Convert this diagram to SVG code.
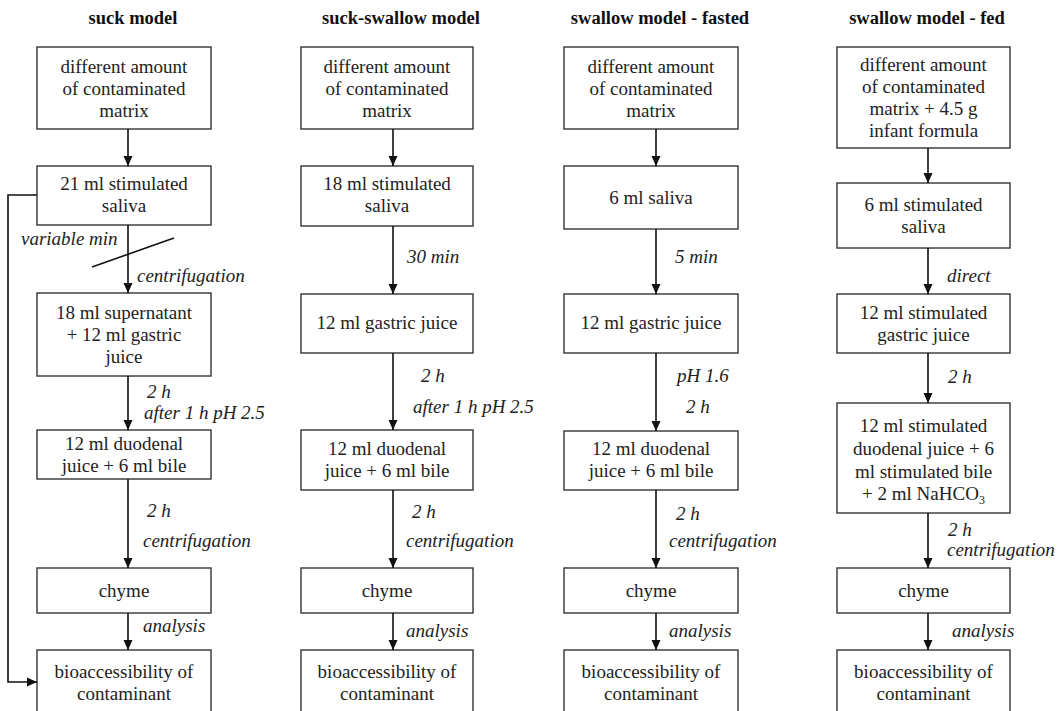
<svg xmlns="http://www.w3.org/2000/svg" width="1057" height="711" viewBox="0 0 1057 711" font-family="Liberation Serif, DejaVu Serif, serif">
<defs>
<marker id="ah" markerUnits="userSpaceOnUse" markerWidth="10" markerHeight="10" viewBox="0 0 10 10" refX="10" refY="5" orient="auto">
<path d="M0,0.5 L10,5 L0,9.5 Z" fill="#111"/>
</marker>
</defs>
<style>
rect.b{fill:#fff;stroke:#333;stroke-width:1.4}
text{font-family:'Liberation Serif','DejaVu Serif',serif;fill:#222}
.t{font-size:19px;text-anchor:middle}
.h{font-size:18.5px;font-weight:bold;text-anchor:middle;fill:#111}
.l{font-size:19px;font-style:italic}
.c line,.c path{stroke:#111;stroke-width:1.6;fill:none}
.a{marker-end:url(#ah)}
</style>
<rect width="1057" height="711" fill="#fff"/>
<g id="titles">
<text class="h" x="133" y="24">suck model</text>
<text class="h" x="401" y="24">suck-swallow model</text>
<text class="h" x="660" y="24">swallow model - fasted</text>
<text class="h" x="927" y="24">swallow model - fed</text>
</g>
<g id="c1n1"><rect class="b" x="37" y="47" width="174" height="82"/><text class="t" x="124" y="73">different amount</text><text class="t" x="124" y="95">of contaminated</text><text class="t" x="124" y="117">matrix</text></g>
<g id="c1n2"><rect class="b" x="37" y="166" width="174" height="59"/><text class="t" x="124" y="190">21 ml stimulated</text><text class="t" x="124" y="212">saliva</text></g>
<g id="c1n3"><rect class="b" x="37" y="293" width="174" height="83"/><text class="t" x="124" y="319">18 ml supernatant</text><text class="t" x="124" y="341">+ 12 ml gastric</text><text class="t" x="124" y="363">juice</text></g>
<g id="c1n4"><rect class="b" x="37" y="430" width="174" height="49"/><text class="t" x="124" y="450">12 ml duodenal</text><text class="t" x="124" y="472">juice + 6 ml bile</text></g>
<g id="c1n5"><rect class="b" x="37" y="568" width="174" height="45"/><text class="t" x="124" y="597">chyme</text></g>
<g id="c1n6"><rect class="b" x="37" y="650" width="174" height="80"/><text class="t" x="124" y="678">bioaccessibility of</text><text class="t" x="124" y="700">contaminant</text></g>
<g id="c2n1"><rect class="b" x="301" y="47" width="172" height="82"/><text class="t" x="387" y="73">different amount</text><text class="t" x="387" y="95">of contaminated</text><text class="t" x="387" y="117">matrix</text></g>
<g id="c2n2"><rect class="b" x="301" y="166" width="172" height="60"/><text class="t" x="387" y="190">18 ml stimulated</text><text class="t" x="387" y="212">saliva</text></g>
<g id="c2n3"><rect class="b" x="301" y="294" width="172" height="59"/><text class="t" x="387" y="329">12 ml gastric juice</text></g>
<g id="c2n4"><rect class="b" x="301" y="430" width="172" height="60"/><text class="t" x="387" y="455">12 ml duodenal</text><text class="t" x="387" y="477">juice + 6 ml bile</text></g>
<g id="c2n5"><rect class="b" x="301" y="568" width="172" height="45"/><text class="t" x="387" y="597">chyme</text></g>
<g id="c2n6"><rect class="b" x="301" y="650" width="172" height="80"/><text class="t" x="387" y="678">bioaccessibility of</text><text class="t" x="387" y="700">contaminant</text></g>
<g id="c3n1"><rect class="b" x="564" y="47" width="174" height="82"/><text class="t" x="651" y="73">different amount</text><text class="t" x="651" y="95">of contaminated</text><text class="t" x="651" y="117">matrix</text></g>
<g id="c3n2"><rect class="b" x="564" y="166" width="174" height="63"/><text class="t" x="651" y="204">6 ml saliva</text></g>
<g id="c3n3"><rect class="b" x="564" y="294" width="174" height="59"/><text class="t" x="651" y="329">12 ml gastric juice</text></g>
<g id="c3n4"><rect class="b" x="564" y="431" width="174" height="59"/><text class="t" x="651" y="455">12 ml duodenal</text><text class="t" x="651" y="477">juice + 6 ml bile</text></g>
<g id="c3n5"><rect class="b" x="564" y="568" width="174" height="45"/><text class="t" x="651" y="597">chyme</text></g>
<g id="c3n6"><rect class="b" x="564" y="650" width="174" height="80"/><text class="t" x="651" y="678">bioaccessibility of</text><text class="t" x="651" y="700">contaminant</text></g>
<g id="c4n1"><rect class="b" x="837" y="47" width="173" height="101"/><text class="t" x="923.5" y="71">different amount</text><text class="t" x="923.5" y="93">of contaminated</text><text class="t" x="923.5" y="115">matrix + 4.5 g</text><text class="t" x="923.5" y="137">infant formula</text></g>
<g id="c4n2"><rect class="b" x="837" y="183" width="173" height="65"/><text class="t" x="923.5" y="211">6 ml stimulated</text><text class="t" x="923.5" y="233">saliva</text></g>
<g id="c4n3"><rect class="b" x="837" y="294" width="173" height="59"/><text class="t" x="923.5" y="319">12 ml stimulated</text><text class="t" x="923.5" y="341">gastric juice</text></g>
<g id="c4n4"><rect class="b" x="837" y="403" width="173" height="110"/><text class="t" x="923.5" y="432">12 ml stimulated</text><text class="t" x="923.5" y="455">duodenal juice + 6</text><text class="t" x="923.5" y="477.5">ml stimulated bile</text><text class="t" x="923.5" y="500">+ 2 ml NaHCO<tspan font-size="12" dy="4">3</tspan></text></g>
<g id="c4n5"><rect class="b" x="837" y="568" width="173" height="45"/><text class="t" x="923.5" y="597">chyme</text></g>
<g id="c4n6"><rect class="b" x="837" y="650" width="173" height="80"/><text class="t" x="923.5" y="678">bioaccessibility of</text><text class="t" x="923.5" y="700">contaminant</text></g>
<g id="connectors" class="c">
<line class="a" x1="128" y1="129" x2="128" y2="166"/>
<line class="a" x1="128" y1="225" x2="128" y2="293"/>
<line x1="92" y1="267" x2="174" y2="238"/>
<line class="a" x1="128" y1="376" x2="128" y2="430"/>
<line class="a" x1="128" y1="479" x2="128" y2="568"/>
<line class="a" x1="128" y1="613" x2="128" y2="650"/>
<path class="a" d="M37,195 H8 V682 H37"/>
<line class="a" x1="393" y1="129" x2="393" y2="166"/>
<line class="a" x1="393" y1="226" x2="393" y2="294"/>
<line class="a" x1="393" y1="353" x2="393" y2="430"/>
<line class="a" x1="393" y1="490" x2="393" y2="568"/>
<line class="a" x1="393" y1="613" x2="393" y2="650"/>
<line class="a" x1="656" y1="129" x2="656" y2="166"/>
<line class="a" x1="656" y1="229" x2="656" y2="294"/>
<line class="a" x1="656" y1="353" x2="656" y2="431"/>
<line class="a" x1="656" y1="490" x2="656" y2="568"/>
<line class="a" x1="656" y1="613" x2="656" y2="650"/>
<line class="a" x1="928" y1="148" x2="928" y2="183"/>
<line class="a" x1="928" y1="248" x2="928" y2="294"/>
<line class="a" x1="928" y1="353" x2="928" y2="403"/>
<line class="a" x1="928" y1="513" x2="928" y2="568"/>
<line class="a" x1="928" y1="613" x2="928" y2="650"/>
</g>
<g id="labels">
<text class="l" x="21" y="245">variable min</text>
<text class="l" x="137" y="282">centrifugation</text>
<text class="l" x="147" y="398">2 h</text>
<text class="l" x="144" y="419">after 1 h pH 2.5</text>
<text class="l" x="147" y="517">2 h</text>
<text class="l" x="143" y="547">centrifugation</text>
<text class="l" x="143" y="632">analysis</text>
<text class="l" x="407" y="263">30 min</text>
<text class="l" x="421" y="382">2 h</text>
<text class="l" x="413" y="413">after 1 h pH 2.5</text>
<text class="l" x="412" y="518">2 h</text>
<text class="l" x="406" y="547">centrifugation</text>
<text class="l" x="406" y="637">analysis</text>
<text class="l" x="675" y="263">5 min</text>
<text class="l" x="677" y="382">pH 1.6</text>
<text class="l" x="686" y="413">2 h</text>
<text class="l" x="676" y="520">2 h</text>
<text class="l" x="669" y="547">centrifugation</text>
<text class="l" x="669" y="637">analysis</text>
<text class="l" x="947" y="282">direct</text>
<text class="l" x="948" y="383">2 h</text>
<text class="l" x="948" y="536">2 h</text>
<text class="l" x="947" y="556">centrifugation</text>
<text class="l" x="952" y="637">analysis</text>
</g>
</svg>
